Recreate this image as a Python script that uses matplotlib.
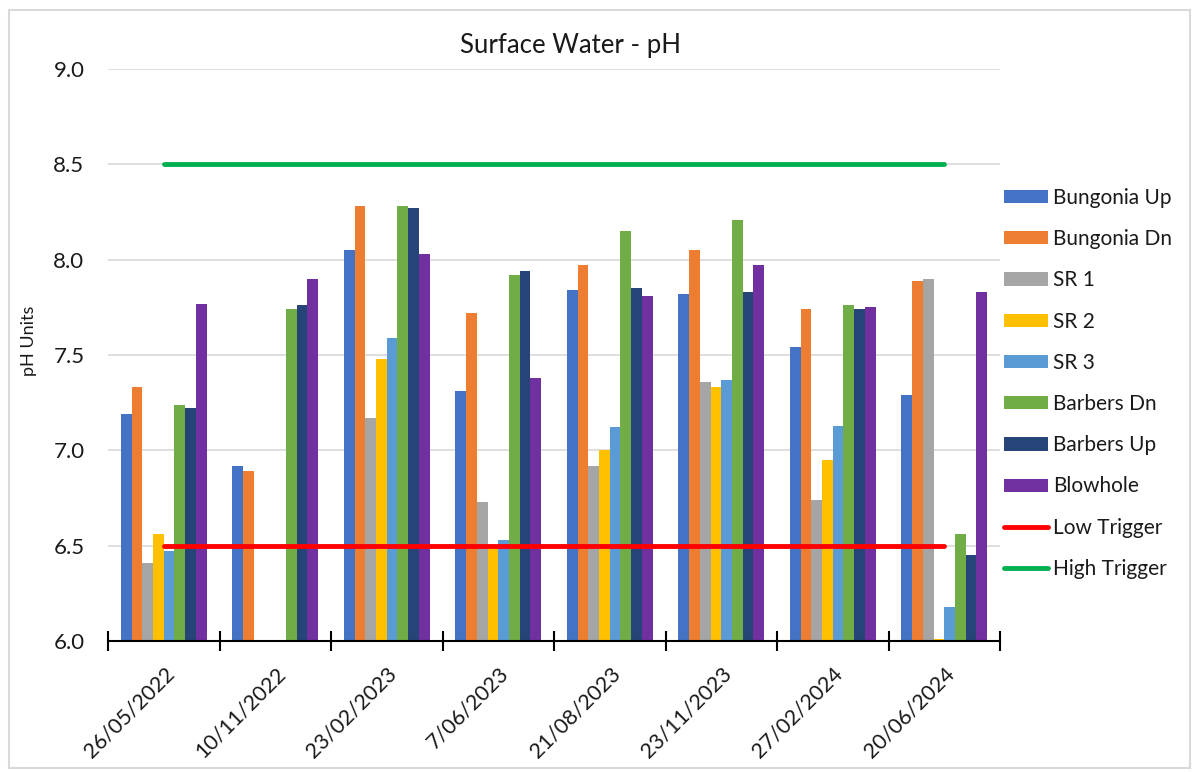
import matplotlib
matplotlib.use('Agg')
import matplotlib.pyplot as plt
from matplotlib.patches import Rectangle
import numpy as np

plt.rcParams['font.family'] = ['Lato', 'DejaVu Sans']

# === data ===
dates = ['26/05/2022', '10/11/2022', '23/02/2023', '7/06/2023',
         '21/08/2023', '23/11/2023', '27/02/2024', '20/06/2024']
sites = ['Bungonia Up', 'Bungonia Dn', 'SR 1', 'SR 2', 'SR 3',
         'Barbers Dn', 'Barbers Up', 'Blowhole']
nan = np.nan
bungonia_up = [7.19, 6.92, 8.05, 7.31, 7.84, 7.82, 7.54, 7.29]
bungonia_dn = [7.33, 6.89, 8.28, 7.72, 7.97, 8.05, 7.74, 7.89]
sr1 = [6.41, nan, 7.17, 6.73, 6.92, 7.36, 6.74, 7.90]
sr2 = [6.56, nan, 7.48, 6.49, 7.00, 7.33, 6.95, 6.01]
sr3 = [6.47, nan, 7.59, 6.53, 7.12, 7.37, 7.13, 6.18]
barbers_dn = [7.24, 7.74, 8.28, 7.92, 8.15, 8.21, 7.76, 6.56]
barbers_up = [7.22, 7.76, 8.27, 7.94, 7.85, 7.83, 7.74, 6.45]
blowhole = [7.77, 7.90, 8.03, 7.38, 7.81, 7.97, 7.75, 7.83]
low_trigger = [6.5] * len(dates)
high_trigger = [8.5] * len(dates)

series = [bungonia_up, bungonia_dn, sr1, sr2, sr3, barbers_dn, barbers_up, blowhole]
colors = ['#4472C4', '#ED7D31', '#A5A5A5', '#FFC000', '#5B9BD5',
          '#70AD47', '#264478', '#7030A0']
TEXT = '#1a1a1a'

fig = plt.figure(figsize=(11.92, 7.72), dpi=100)
ax = fig.add_axes([108 / 1192, 1 - 641 / 772, 892 / 1192, 572 / 772])

x = np.arange(len(dates))
n = len(series)
group_w = 0.77
bw = group_w / n
bars = []
for i, (vals, c) in enumerate(zip(series, colors)):
    v = np.array(vals, dtype=float)
    b = ax.bar(x - group_w / 2 + bw * (i + 0.5), v - 6.0, bottom=6.0, width=bw,
               color=c, zorder=2, linewidth=0)
    bars.append(b)

lo, = ax.plot(x, low_trigger, color='#FF0000', lw=3.5, solid_capstyle='round', zorder=3)
hi, = ax.plot(x, high_trigger, color='#00B050', lw=3.5, solid_capstyle='round', zorder=3)

ax.set_xlim(-0.5, len(dates) - 0.5)
ax.set_ylim(6.0, 9.0)
yt = np.arange(6.0, 9.01, 0.5)
ax.set_yticks(yt)
ax.set_yticklabels([f'{t:.1f}' for t in yt])
ax.yaxis.grid(True, color='#D9D9D9', lw=1.2, zorder=0)
ax.set_axisbelow(True)
for s in ['top', 'right', 'left']:
    ax.spines[s].set_visible(False)
ax.spines['bottom'].set_color('black')
ax.spines['bottom'].set_linewidth(1.5)
ax.spines['bottom'].set_zorder(4)
ax.tick_params(axis='y', length=0, pad=17, labelsize=16, labelcolor=TEXT)

# category boundary ticks (cross style)
ax.set_xticks(np.arange(-0.5, len(dates)), minor=False)
ax.set_xticklabels([])
ax.tick_params(axis='x', which='major', direction='inout', length=14, width=1.5,
               color='black')
ax.set_xticks(x, minor=True)
ax.set_xticklabels(dates, minor=True, rotation=45, ha='right',
                   rotation_mode='anchor', fontsize=15.5, color=TEXT)
ax.tick_params(axis='x', which='minor', length=0, pad=16)

ax.set_ylabel('pH Units', fontsize=13, color=TEXT)
ax.yaxis.set_label_coords(-0.08, 0.524)
fig.text(571 / 1192, 1 - 45 / 772, 'Surface Water - pH', fontsize=18.5,
         color=TEXT, ha='center', va='center')

handles = bars + [lo, hi]
labels = sites + ['Low Trigger', 'High Trigger']
leg = fig.legend(handles, labels, loc='upper left',
                 bbox_to_anchor=(985 / 1192, 1 - 169 / 772),
                 frameon=False, fontsize=15, handlelength=2.1, handleheight=0.6,
                 labelspacing=1.02, handletextpad=0.25, labelcolor=TEXT)

fig.patches.append(Rectangle((9 / 1192, 0.005), 1181 / 1192, 1 - 10 / 772 - 0.005,
                             transform=fig.transFigure, fill=False,
                             edgecolor='#D9D9D9', lw=1.5))

fig.savefig('out.png', dpi=100, facecolor='white')
